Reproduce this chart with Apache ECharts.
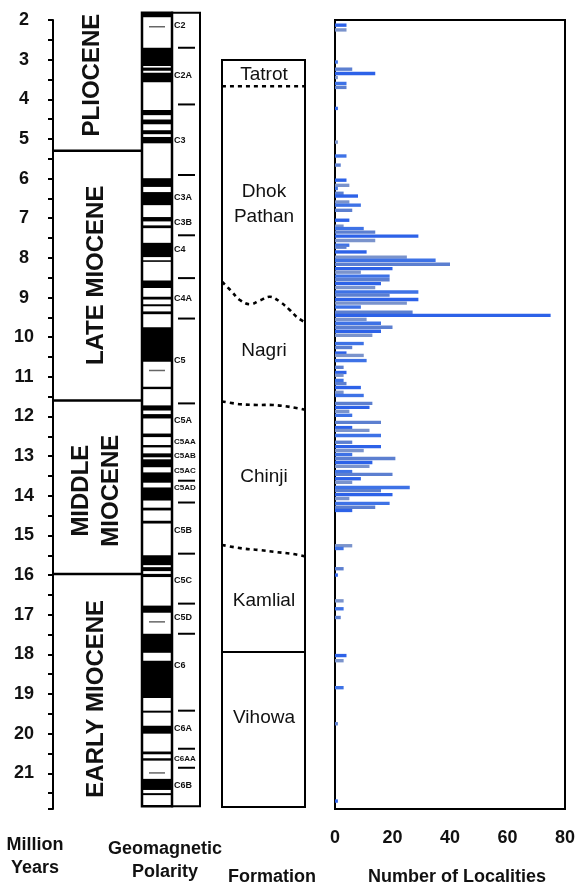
<!DOCTYPE html>
<html><head><meta charset="utf-8">
<script src="https://cdn.jsdelivr.net/npm/echarts@6/dist/echarts.min.js"></script>
<style>html,body{margin:0;padding:0;background:#fff}#c{width:581px;height:886px}</style>
</head><body><div id="c"></div>
<script>
// ---------------- DATA ----------------
// Number of localities per age bin (Ma)
const barAges = [2.13,2.25,3.06,3.24,3.35,3.45,3.6,3.7,4.23,5.08,5.43,5.66,6.04,6.17,6.25,6.37,6.44,6.59,6.67,6.8,
  7.05,7.2,7.26,7.35,7.45,7.56,7.68,7.73,7.85,7.98,8.06,8.16,8.27,8.36,8.46,8.55,8.65,8.75,8.86,8.94,
  9.05,9.14,9.24,9.37,9.45,9.55,9.65,9.75,9.85,9.95,10.16,10.26,10.4,10.46,10.59,10.76,10.89,10.96,11.09,11.17,
  11.27,11.39,11.47,11.67,11.77,11.87,11.97,12.15,12.28,12.35,12.48,12.65,12.76,12.86,12.96,13.06,13.16,13.26,13.39,13.46,
  13.57,13.66,13.79,13.87,13.97,14.07,14.19,14.29,14.37,15.26,15.33,15.84,16.0,16.65,16.85,17.07,18.03,18.16,18.84,19.75,21.7];
const barCounts = [4,4,1,6,14,1,4,4,1,1,4,2,4,5,1,3,8,5,9,6,
  5,3,10,14,29,14,5,4,11,25,35,40,20,9,19,19,16,14,29,19,
  29,25,9,27,75,11,16,20,16,13,10,6,4,10,11,3,4,3,3,4,
  9,3,10,13,12,5,6,16,6,12,16,6,16,10,6,21,13,12,6,20,
  9,6,26,16,20,5,19,14,6,6,3,3,1,3,3,2,4,3,3,1,1];

// Geomagnetic polarity: normal (black) intervals [start, end] in Ma
const normalChrons = [[1.82,1.93],
  [2.70,3.16],[3.20,3.28],[3.33,3.57],
  [4.27,4.40],[4.51,4.63],[4.78,4.88],[4.95,5.11],
  [5.99,6.21],[6.34,6.67],[6.97,7.08],[7.18,7.25],[7.62,7.98],[8.06,8.10],
  [8.57,8.76],[8.98,9.05],[9.17,9.22],[9.35,9.42],
  [9.75,10.62],[11.25,11.31],
  [11.72,11.85],[11.94,12.05],[12.43,12.52],[12.72,12.78],[12.93,13.03],[13.08,13.28],[13.41,13.67],[13.79,14.12],[14.30,14.37],[14.63,14.70],
  [15.50,15.75],[15.80,15.90],[15.97,16.05],
  [16.77,16.95],[17.48,17.96],[18.16,19.10],[19.42,19.47],[19.80,20.00],[20.45,20.52],[20.62,20.68],[21.14,21.42],[21.50,21.55]];
const cryptochrons = [2.17,10.84,17.18,20.99];
const polarityTop = 1.82, polarityBottom = 21.83;

// Chron names
const chronBoundaries = [2.70,4.13,5.91,7.43,8.51,9.53,11.67,13.62,14.17,15.46,16.72,17.48,19.42,20.38,20.86];
const chronNames = ['C2','C2A','C3','C3A','C3B','C4','C4A','C5','C5A','C5AA','C5AB','C5AC','C5AD','C5B','C5C','C5D','C6','C6A','C6AA','C6B'];
const chronLabelAges = [2.13,3.39,5.03,6.47,7.12,7.8,9.02,10.58,12.1,12.65,12.98,13.36,13.79,14.88,16.14,17.07,18.29,19.88,20.64,21.32];

// Epochs
const epochNames = ['PLIOCENE','LATE MIOCENE','MIDDLE\nMIOCENE','EARLY MIOCENE'];
const epochLabelAges = [3.39,8.44,13.87,19.12];
const epochBoundaries = [5.3,11.6,15.97];

// Formations
const formationNames = ['Tatrot','Dhok\nPathan','Nagri','Chinji','Kamlial','Vihowa'];
const formationLabelAges = [3.39,6.66,10.33,13.53,16.64,19.61];
const formationTop = 3.01, formationBottom = 21.85;
// boundary traces: [fraction across column, age Ma]
const boundaryTatrotDhok = [[0,3.67],[1,3.67]];
const boundaryDhokNagri = [[0,8.60],[0.1,8.81],[0.22,9.07],[0.34,9.17],[0.46,9.07],[0.58,8.98],[0.70,9.11],[0.82,9.32],[0.9,9.49],[1,9.63]];
const boundaryNagriChinji = [[0,11.62],[0.22,11.69],[0.42,11.71],[0.61,11.71],[0.82,11.76],[1,11.83]];
const boundaryChinjiKamlial = [[0,15.24],[0.25,15.33],[0.46,15.37],[0.66,15.42],[0.86,15.47],[1,15.53]];
const boundaryKamlialVihowa = [[0,17.94],[1,17.94]];
const formationBoundaries = [boundaryTatrotDhok,boundaryDhokNagri,boundaryNagriChinji,boundaryChinjiKamlial,boundaryKamlialVihowa];
const boundaryDashed = [true,true,true,true,false];

// ---------------- LAYOUT / STYLE ----------------
const L = {polL:89, polR:119, chrR:147, dashL:125, dashR:142, chrText:121, formL:169, formR:252, formC:211, epochEnd:89};
const barColors = ['#2d62e8','#7a93cc','#3e72e6','#5c7fd0'];
const FONT = '"Liberation Sans", Arial, sans-serif';

function X(api, v){ return api.coord([v, 10])[0]; }
function Y(api, a){ return api.coord([0, a])[1]; }
const base = {type:'custom', xAxisIndex:0, yAxisIndex:0, clip:false, silent:true};

const chart = echarts.init(document.getElementById('c'), null, {renderer:'canvas'});
chart.setOption({
  animation:false,
  grid:[
    {left:53, top:20, width:257, height:789, show:false},
    {left:335, top:20, width:230, height:789, show:true, borderColor:'#000', borderWidth:2, backgroundColor:'#fff'}
  ],
  xAxis:[
    {gridIndex:0, type:'value', min:0, max:257, show:false},
    {gridIndex:1, type:'value', min:0, max:80, interval:20,
     axisLine:{show:false}, axisTick:{show:false}, splitLine:{show:false},
     axisLabel:{color:'#111', fontSize:18, fontWeight:'bold', fontFamily:FONT, margin:20}}
  ],
  yAxis:[
    {gridIndex:0, type:'value', min:2, max:21.9, interval:1, inverse:true,
     axisLine:{show:true, lineStyle:{color:'#000', width:2}},
     axisTick:{show:true, length:5, lineStyle:{color:'#000', width:2}},
     minorTick:{show:true, splitNumber:2, length:5, lineStyle:{color:'#000', width:2}},
     splitLine:{show:false},
     axisLabel:{color:'#111', fontSize:18, fontWeight:'bold', fontFamily:FONT, align:'center', margin:29,
       formatter:v=> (Math.abs(v-Math.round(v))<1e-6 && v<=21) ? String(v) : ''}},
    {gridIndex:1, type:'value', min:2, max:21.9, inverse:true, show:false}
  ],
  graphic:[
    {type:'text', x:35, y:857, style:{text:'Million\nYears', fill:'#111', font:'bold 18px '+FONT, align:'center', verticalAlign:'middle', lineHeight:23}},
    {type:'text', x:165, y:861, style:{text:'Geomagnetic\nPolarity', fill:'#111', font:'bold 18px '+FONT, align:'center', verticalAlign:'middle', lineHeight:23}},
    {type:'text', x:272, y:877, style:{text:'Formation', fill:'#111', font:'bold 18px '+FONT, align:'center', verticalAlign:'middle'}},
    {type:'text', x:457, y:877, style:{text:'Number of Localities', fill:'#111', font:'bold 18px '+FONT, align:'center', verticalAlign:'middle'}}
  ],
  series:[
    // polarity column background
    Object.assign({}, base, {z:1, data:[[polarityTop, polarityBottom]], renderItem:(p,api)=>{
      const y0=Y(api,api.value(0)), y1=Y(api,api.value(1));
      const x0=X(api,L.polL), x1=X(api,L.chrR);
      return {type:'rect', shape:{x:x0,y:y0,width:x1-x0,height:y1-y0}, style:{fill:'#fff'}};
    }}),
    // normal polarity bands
    Object.assign({}, base, {z:2, data:normalChrons, renderItem:(p,api)=>{
      const y0=Y(api,api.value(0)), y1=Y(api,api.value(1));
      const x0=X(api,L.polL), x1=X(api,L.polR);
      return {type:'rect', shape:{x:x0,y:y0,width:x1-x0,height:y1-y0}, style:{fill:'#000'}};
    }}),
    // cryptochron short lines
    Object.assign({}, base, {z:2, data:cryptochrons.map(a=>[a]), renderItem:(p,api)=>{
      const y=Y(api,api.value(0));
      return {type:'line', shape:{x1:X(api,L.polL+7), y1:y, x2:X(api,L.polR-7), y2:y}, style:{stroke:'#666', lineWidth:1.5}};
    }}),
    // polarity + chron frames
    Object.assign({}, base, {z:3, data:[[polarityTop, polarityBottom]], renderItem:(p,api)=>{
      const y0=Y(api,api.value(0)), y1=Y(api,api.value(1));
      const a=X(api,L.polL), b=X(api,L.polR), c=X(api,L.chrR);
      return {type:'group', children:[
        {type:'rect', shape:{x:a,y:y0,width:b-a,height:y1-y0}, style:{fill:null, stroke:'#000', lineWidth:2.5}},
        {type:'rect', shape:{x:b,y:y0,width:c-b,height:y1-y0}, style:{fill:null, stroke:'#000', lineWidth:2}}
      ]};
    }}),
    // chron boundary dashes
    Object.assign({}, base, {z:3, data:chronBoundaries.map(a=>[a]), renderItem:(p,api)=>{
      const y=Y(api,api.value(0));
      return {type:'line', shape:{x1:X(api,L.dashL), y1:y, x2:X(api,L.dashR), y2:y}, style:{stroke:'#000', lineWidth:2}};
    }}),
    // chron labels
    Object.assign({}, base, {z:3, data:chronLabelAges.map((a,i)=>[a,i]), renderItem:(p,api)=>{
      const y=Y(api,api.value(0)); const name=chronNames[api.value(1)];
      return {type:'text', x:X(api,L.chrText), y:y, style:{text:name, fill:'#111', font:'bold '+(name.length>3?8:9)+'px '+FONT, align:'left', verticalAlign:'middle'}};
    }}),
    // epoch boundaries
    Object.assign({}, base, {z:3, data:epochBoundaries.map(a=>[a]), renderItem:(p,api)=>{
      const y=Y(api,api.value(0));
      return {type:'line', shape:{x1:X(api,0), y1:y, x2:X(api,L.epochEnd), y2:y}, style:{stroke:'#000', lineWidth:2.5}};
    }}),
    // epoch labels (rotated)
    Object.assign({}, base, {z:3, data:epochLabelAges.map((a,i)=>[a,i]), renderItem:(p,api)=>{
      const i=api.value(1), y=Y(api,api.value(0));
      const cx = X(api, i===0 ? 39 : 43);
      return {type:'text', x:cx, y:y, rotation:Math.PI/2,
        style:{text:epochNames[i], fill:'#111', font:'bold 24px '+FONT, align:'center', verticalAlign:'middle', lineHeight:30}};
    }}),
    // formation column frame
    Object.assign({}, base, {z:3, data:[[formationTop, formationBottom]], renderItem:(p,api)=>{
      const y0=Y(api,api.value(0)), y1=Y(api,api.value(1));
      const a=X(api,L.formL), b=X(api,L.formR);
      return {type:'rect', shape:{x:a,y:y0,width:b-a,height:y1-y0}, style:{fill:'#fff', stroke:'#000', lineWidth:2}};
    }}),
    // formation boundaries
    Object.assign({}, base, {z:4, data:formationBoundaries.map((b,i)=>[i]), renderItem:(p,api)=>{
      const i=api.value(0); const a=X(api,L.formL), b=X(api,L.formR);
      const pts = formationBoundaries[i].map(q=>[a+(b-a)*q[0], Y(api,q[1])]);
      return {type:'polyline', shape:{points:pts, smooth:0.4},
        style:{fill:null, stroke:'#000', lineWidth:boundaryDashed[i]?2.6:2, lineDash:boundaryDashed[i]?[4,4]:null}};
    }}),
    // formation labels
    Object.assign({}, base, {z:4, data:formationLabelAges.map((a,i)=>[a,i]), renderItem:(p,api)=>{
      const i=api.value(1), y=Y(api,api.value(0));
      return {type:'text', x:X(api,L.formC), y:y,
        style:{text:formationNames[i], fill:'#111', font:'19px '+FONT, align:'center', verticalAlign:'middle', lineHeight:25}};
    }}),
    // localities bars
    {type:'custom', xAxisIndex:1, yAxisIndex:1, clip:true, silent:true, z:5,
     data: barAges.map((a,i)=>[barCounts[i], a]),
     renderItem:(p,api)=>{
       const c=api.value(0), a=api.value(1);
       const p0=api.coord([0,a]), p1=api.coord([c,a]);
       const h=api.size([0,0.085])[1];
       return {type:'rect', shape:{x:p0[0], y:p0[1]-h/2, width:p1[0]-p0[0], height:h},
         style:{fill:barColors[p.dataIndex % barColors.length]}};
     }}
  ]
});
</script></body></html>
